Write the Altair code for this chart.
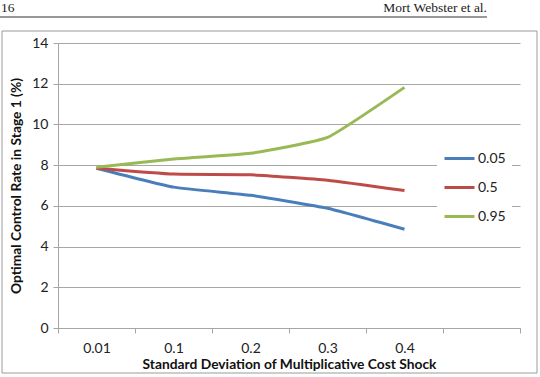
import altair as alt
import pandas as pd

sd_labels = ["0.01", "0.1", "0.2", "0.3", "0.4"]
q05 = [7.85, 6.92, 6.52, 5.88, 4.85]
q50 = [7.85, 7.56, 7.53, 7.26, 6.75]
q95 = [7.90, 8.30, 8.58, 9.36, 11.82]
series_names = ["0.05", "0.5", "0.95"]
series_colors = ["#4A7EBB", "#BE4B48", "#98B954"]
y_ticks = [0, 2, 4, 6, 8, 10, 12, 14]
x_domain = sd_labels + [" "]

rows = []
for name, vals in zip(series_names, [q05, q50, q95]):
    for i, (s, v) in enumerate(zip(sd_labels, vals)):
        rows.append({"sd": s, "rate": v, "series": name, "order": i})
df = pd.DataFrame(rows)

W, H = 462, 285
GRID = "#a6a6a6"
FONT = "Lato"

lines = alt.Chart(df).mark_line(strokeWidth=3, interpolate="cardinal", tension=0.6).encode(
    x=alt.X(
        "sd:N",
        sort=None,
        scale=alt.Scale(type="band", domain=x_domain, paddingInner=0, paddingOuter=0),
        axis=alt.Axis(
            title="Standard Deviation of Multiplicative Cost Shock",
            tickBand="extent",
            labelAngle=0,
            labelFont=FONT,
            labelFontSize=14,
            labelColor="#222222",
            labelPadding=8,
            tickSize=5,
            tickColor=GRID,
            domainColor=GRID,
            titleFont=FONT,
            titleFontSize=13.8,
            titleFontWeight="bold",
            titleColor="#111111",
            titlePadding=2,
            grid=False,
        ),
    ),
    y=alt.Y(
        "rate:Q",
        scale=alt.Scale(domain=[0, 14], nice=False),
        axis=alt.Axis(
            title="Optimal Control Rate in Stage 1 (%)",
            values=y_ticks,
            labelFont=FONT,
            labelFontSize=14,
            labelColor="#222222",
            labelPadding=5,
            tickSize=5,
            tickColor=GRID,
            domainColor=GRID,
            gridColor=GRID,
            grid=True,
            titleFont=FONT,
            titleFontSize=13.8,
            titleFontWeight="bold",
            titleColor="#111111",
            titlePadding=8,
        ),
    ),
    color=alt.Color(
        "series:N",
        title=None,
        scale=alt.Scale(domain=series_names, range=series_colors),
        legend=alt.Legend(
            orient="none",
            legendX=379,
            legendY=93,
            fillColor="white",
            padding=6,
            symbolType="stroke",
            symbolSize=900,
            symbolStrokeWidth=3,
            labelFont=FONT,
            labelFontSize=14,
            labelColor="#222222",
            labelOffset=2,
            rowPadding=5,
        ),
    ),
    order="order:Q",
)

one = alt.Data(values=[{}])

border = alt.Chart(one).mark_rect(fillOpacity=0, stroke="#9a9a9a", strokeWidth=1).encode(
    x=alt.value(-56), x2=alt.value(479), y=alt.value(-12), y2=alt.value(330)
)
header_rule = alt.Chart(one).mark_rule(color="#333333", strokeWidth=1).encode(
    x=alt.value(-58), x2=alt.value(429), y=alt.value(-26)
)
header_left = alt.Chart(one).mark_text(
    align="left", baseline="middle", font="Liberation Serif", fontSize=13.5, color="#222222"
).encode(x=alt.value(-57), y=alt.value(-35), text=alt.value("16"))
header_right = alt.Chart(one).mark_text(
    align="right", baseline="middle", font="Liberation Serif", fontSize=13.5, color="#222222"
).encode(x=alt.value(429), y=alt.value(-35), text=alt.value("Mort Webster et al."))

chart = alt.layer(border, header_rule, header_left, header_right, lines).properties(
    width=W,
    height=H,
    autosize=alt.AutoSizeParams(type="none"),
    padding={"left": 58, "top": 43, "right": 20, "bottom": 49},
    background="white",
).configure_view(stroke=None)

chart.save("out.html", embed_options={"renderer": "svg", "actions": False})
